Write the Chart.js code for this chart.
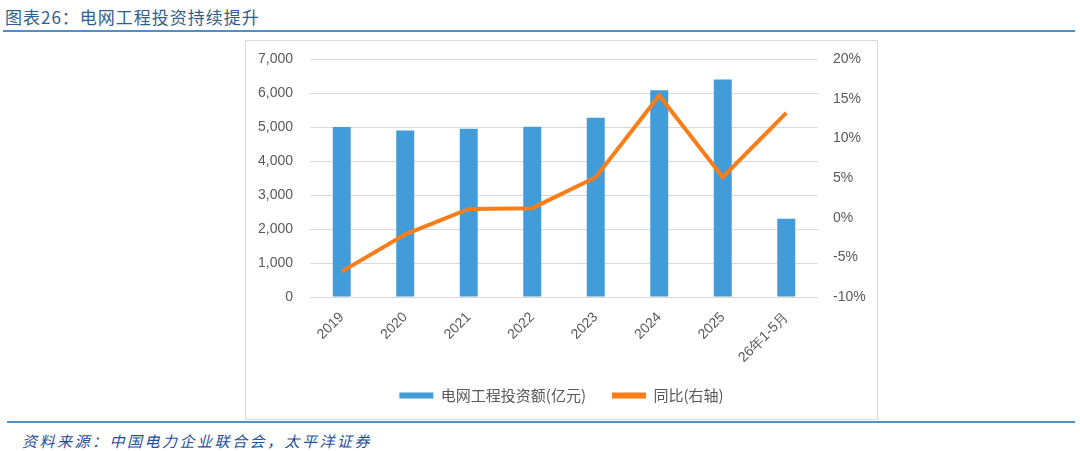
<!DOCTYPE html>
<html lang="zh">
<head>
<meta charset="UTF-8">
<title>电网工程投资持续提升</title>
<script src="https://cdn.jsdelivr.net/npm/chart.js"></script>
<style>
  html, body { margin: 0; padding: 0; background: #fff; }
  body { width: 1080px; height: 451px; position: relative; overflow: hidden; font-family: "Noto Sans CJK SC", sans-serif; }
  .title { position: absolute; left: 5px; top: 4px; font-size: 17px; color: #2f5f8f; letter-spacing: 1px; }
  .rule { position: absolute; height: 2px; background: #4f8fcc; }
  .box { position: absolute; left: 245px; top: 40px; width: 631px; height: 378px; border: 1px solid #d9d9d9; }
  .source { position: absolute; left: 22px; top: 430px; font-size: 15px; font-style: italic; color: #1f4f99; letter-spacing: 2.5px; }
</style>
</head>
<body>
<div class="title">图表26：电网工程投资持续提升</div>
<div class="rule" style="left:3px; top:30px; width:1072px;"></div>
<div class="box"><canvas id="gridChart" width="631" height="378"></canvas></div>
<div class="rule" style="left:7px; top:421px; width:1068px;"></div>
<div class="source">资料来源：中国电力企业联合会，太平洋证券</div>

<script>
  const categories = ['2019', '2020', '2021', '2022', '2023', '2024', '2025', '26年1-5月'];
  const investment = [5000, 4900, 4950, 5010, 5275, 6080, 6400, 2300]; // 亿元
  const yoy = [-6.8, -2.1, 1.1, 1.2, 5.1, 15.4, 5.1, 13.2]; // %
  const leftTicks = [0, 1000, 2000, 3000, 4000, 5000, 6000, 7000];
  const rightTicks = [-10, -5, 0, 5, 10, 15, 20];

  const tickFont = { family: '"Liberation Sans", Arial, sans-serif', size: 14 };
  const tickColor = '#595959';

  new Chart(document.getElementById('gridChart'), {
    data: {
      labels: categories,
      datasets: [
        {
          type: 'bar',
          label: '电网工程投资额(亿元)',
          data: investment,
          backgroundColor: '#439cda',
          yAxisID: 'y',
          barPercentage: 0.283,
          categoryPercentage: 1,
          order: 2
        },
        {
          type: 'line',
          label: '同比(右轴)',
          data: yoy,
          borderColor: '#fa7d18',
          backgroundColor: '#fa7d18',
          borderWidth: 4,
          pointRadius: 0,
          tension: 0,
          yAxisID: 'y1',
          order: 1
        }
      ]
    },
    options: {
      responsive: false,
      animation: false,
      layout: { padding: { top: 18, left: 0, right: 0, bottom: 6 } },
      plugins: {
        tooltip: { enabled: false },
        legend: {
          position: 'bottom',
          labels: {
            font: { family: '"Noto Sans CJK SC", sans-serif', size: 15 },
            color: tickColor,
            boxWidth: 34,
            boxHeight: 6,
            padding: 26,
            sort: (a, b) => a.datasetIndex - b.datasetIndex,
            generateLabels: chart => Chart.defaults.plugins.legend.labels.generateLabels(chart).map(item => {
              item.lineWidth = 0;
              return item;
            })
          }
        }
      },
      scales: {
        x: {
          grid: { display: false },
          border: { display: false },
          ticks: {
            font: tickFont,
            color: tickColor,
            minRotation: 45,
            maxRotation: 45,
            padding: 4
          },
          afterFit: s => { s.height = 65; }
        },
        y: {
          position: 'left',
          min: 0,
          max: 7000,
          afterBuildTicks: s => { s.ticks = leftTicks.map(v => ({ value: v })); },
          grid: { color: '#d9d9d9', drawTicks: true, tickLength: 15, tickColor: 'rgba(0,0,0,0)' },
          border: { display: false },
          ticks: {
            font: tickFont,
            color: tickColor,
            padding: 2,
            callback: v => v.toLocaleString('en-US')
          },
          afterFit: s => { s.width = 64; }
        },
        y1: {
          position: 'right',
          min: -10,
          max: 20,
          afterBuildTicks: s => { s.ticks = rightTicks.map(v => ({ value: v })); },
          grid: { display: true, drawOnChartArea: false, drawTicks: true, tickLength: 13, color: 'rgba(0,0,0,0)' },
          border: { display: false },
          ticks: {
            font: tickFont,
            color: tickColor,
            padding: 2,
            callback: v => v + '%'
          },
          afterFit: s => { s.width = 59; }
        }
      }
    }
  });
</script>
</body>
</html>
